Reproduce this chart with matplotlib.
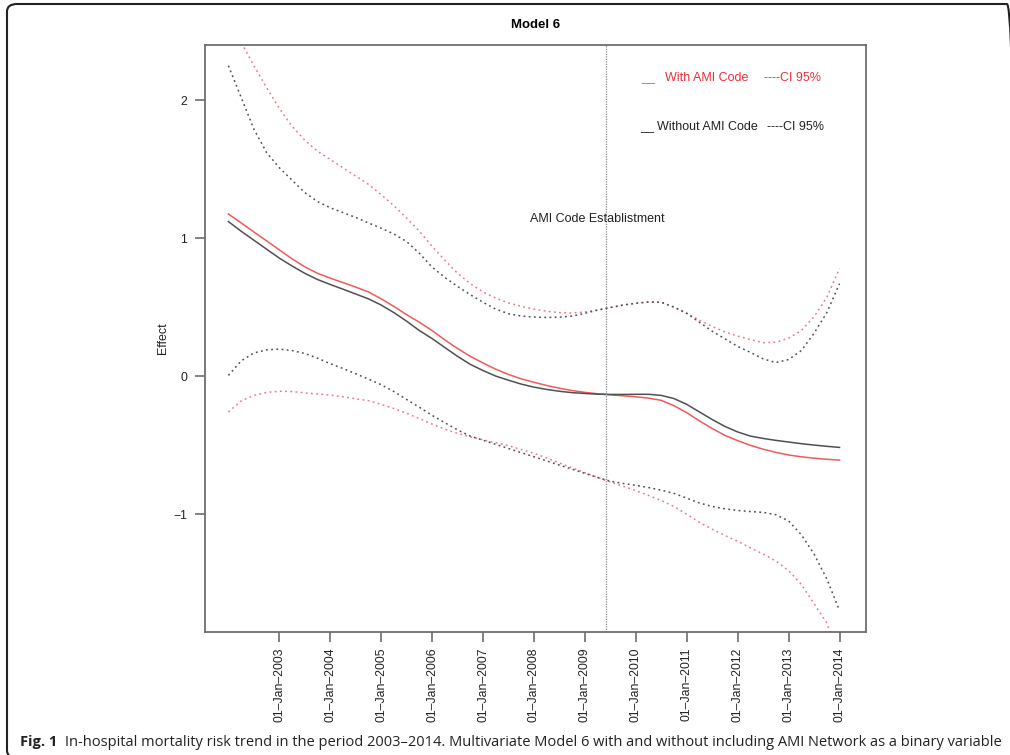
import matplotlib
matplotlib.use("Agg")
import matplotlib.pyplot as plt
from matplotlib.patches import FancyBboxPatch

plt.rcParams['font.family'] = ['Liberation Sans', 'DejaVu Sans']

# time axis (years), values every quarter year
years = [2002.00, 2002.25, 2002.50, 2002.75, 2003.00, 2003.25, 2003.50, 2003.75,
         2004.00, 2004.25, 2004.50, 2004.75, 2005.00, 2005.25, 2005.50, 2005.75,
         2006.00, 2006.25, 2006.50, 2006.75, 2007.00, 2007.25, 2007.50, 2007.75,
         2008.00, 2008.25, 2008.50, 2008.75, 2009.00, 2009.25, 2009.50, 2009.75,
         2010.00, 2010.25, 2010.50, 2010.75, 2011.00, 2011.25, 2011.50, 2011.75,
         2012.00, 2012.25, 2012.50, 2012.75, 2013.00, 2013.25, 2013.50, 2013.75,
         2014.00]

with_ami = [1.175, 1.11, 1.045, 0.98, 0.915, 0.85, 0.792, 0.745,
            0.71, 0.678, 0.645, 0.61, 0.56, 0.505, 0.445, 0.39,
            0.33, 0.262, 0.20, 0.143, 0.095, 0.05, 0.012, -0.02,
            -0.045, -0.068, -0.088, -0.105, -0.118, -0.128, -0.136, -0.143,
            -0.15, -0.16, -0.176, -0.215, -0.265, -0.325, -0.38, -0.43,
            -0.468, -0.502, -0.53, -0.553, -0.572, -0.585, -0.595, -0.603,
            -0.609]
with_upper = [2.62, 2.42, 2.25, 2.09, 1.94, 1.81, 1.71, 1.63,
              1.57, 1.51, 1.45, 1.39, 1.315, 1.235, 1.145, 1.05,
              0.94, 0.84, 0.745, 0.67, 0.61, 0.565, 0.53, 0.505,
              0.485, 0.47, 0.46, 0.458, 0.465, 0.48, 0.497, 0.515,
              0.528, 0.537, 0.535, 0.50, 0.455, 0.405, 0.36, 0.32,
              0.29, 0.265, 0.242, 0.245, 0.275, 0.33, 0.43, 0.57,
              0.78]
with_lower = [-0.26, -0.18, -0.14, -0.118, -0.11, -0.112, -0.122, -0.13,
              -0.138, -0.15, -0.165, -0.178, -0.205, -0.235, -0.27, -0.308,
              -0.348, -0.385, -0.415, -0.44, -0.462, -0.483, -0.505, -0.532,
              -0.56, -0.594, -0.63, -0.665, -0.70, -0.735, -0.768, -0.798,
              -0.83, -0.865, -0.902, -0.945, -1.002, -1.06, -1.11, -1.155,
              -1.198, -1.245, -1.29, -1.34, -1.41, -1.51, -1.65, -1.79,
              -2.05]

without_ami = [1.12, 1.05, 0.985, 0.92, 0.855, 0.798, 0.745, 0.70,
               0.664, 0.63, 0.595, 0.56, 0.515, 0.46, 0.398, 0.33,
               0.272, 0.207, 0.143, 0.085, 0.04, 0.0, -0.03, -0.058,
               -0.08, -0.097, -0.11, -0.12, -0.126, -0.131, -0.133, -0.133,
               -0.132, -0.132, -0.14, -0.163, -0.205, -0.26, -0.315, -0.365,
               -0.405, -0.435, -0.452, -0.466, -0.478, -0.49, -0.50, -0.509,
               -0.517]
without_upper = [2.25, 2.02, 1.79, 1.62, 1.51, 1.42, 1.33, 1.265,
                 1.22, 1.185, 1.15, 1.11, 1.072, 1.03, 0.975, 0.89,
                 0.79, 0.715, 0.65, 0.59, 0.535, 0.485, 0.452, 0.435,
                 0.428, 0.425, 0.427, 0.435, 0.455, 0.478, 0.497, 0.515,
                 0.528, 0.537, 0.535, 0.50, 0.455, 0.39, 0.325, 0.27,
                 0.215, 0.172, 0.125, 0.098, 0.12, 0.185, 0.31, 0.46,
                 0.67]
without_lower = [0.005, 0.11, 0.168, 0.19, 0.196, 0.185, 0.164, 0.13,
                 0.09, 0.055, 0.017, -0.022, -0.063, -0.112, -0.17, -0.226,
                 -0.285, -0.338, -0.39, -0.435, -0.465, -0.495, -0.525, -0.555,
                 -0.585, -0.615, -0.645, -0.675, -0.705, -0.735, -0.762, -0.778,
                 -0.792, -0.808, -0.827, -0.85, -0.885, -0.92, -0.945, -0.962,
                 -0.974, -0.982, -0.988, -1.005, -1.05, -1.15, -1.29, -1.47,
                 -1.70]

tick_years = [2003, 2004, 2005, 2006, 2007, 2008, 2009, 2010, 2011, 2012, 2013, 2014]
tick_labels = [f"01\u2013Jan\u2013{y}" for y in tick_years]
ami_code_date = 2009.41

RED = "#f05a5a"
RED_CI = "#f07888"
DARK = "#505050"
AXIS = "#6e6e6e"
DOTS = (0, (1.2, 2.2))

fig = plt.figure(figsize=(10.1, 7.55), dpi=100)
ax = fig.add_axes([205 / 1010, 1 - 632 / 755, (866 - 205) / 1010, (632 - 45) / 755])

ax.plot(years, with_ami, color=RED, lw=1.1)
ax.plot(years, without_ami, color=DARK, lw=1.1)
ax.plot(years, with_upper, color=RED_CI, lw=1.1, ls=DOTS)
ax.plot(years, with_lower, color=RED_CI, lw=1.1, ls=DOTS)
ax.plot(years, without_upper, color=DARK, lw=1.1, ls=DOTS)
ax.plot(years, without_lower, color=DARK, lw=1.1, ls=DOTS)

ax.axvline(ami_code_date, color="#8a8a8a", lw=0.9, ls=(0, (1, 1)))

ax.set_xlim(2001.54, 2014.52)
ax.set_ylim(-1.855, 2.40)
ax.set_yticks([-1, 0, 1, 2])
ax.set_xticks(tick_years)
ax.set_xticklabels(tick_labels, rotation=90)
ax.tick_params(axis="both", length=7, width=1.2, color=AXIS, labelsize=8.8,
               labelcolor="#222222", pad=4)
ax.tick_params(axis="y", pad=6)
for sp in ax.spines.values():
    sp.set_color(AXIS)
    sp.set_linewidth(1.3)

ax.set_ylabel("Effect", fontsize=9, color="#222222", labelpad=3)
ax.set_title("Model 6", fontsize=9.5, fontweight="bold", pad=12)

# legend written as plain text, as in the original
ax.text(2010.11, 2.138, "__", color=RED, fontsize=9)
ax.text(2010.58, 2.138, "With AMI Code", color="#e8303a", fontsize=9)
ax.text(2012.52, 2.138, "----CI 95%", color="#e8303a", fontsize=9)
ax.text(2010.09, 1.783, "__", color="#222222", fontsize=9)
ax.text(2010.42, 1.783, "Without AMI Code", color="#222222", fontsize=9)
ax.text(2012.58, 1.783, "----CI 95%", color="#222222", fontsize=9)
ax.text(2007.93, 1.118, "AMI Code Establistment", color="#222222", fontsize=9)

# caption and frame
cap_y = 1 - 746 / 755
fig.text(20 / 1010, cap_y, "Fig. 1", fontsize=10.5, fontweight="bold",
         family="Open Sans", va="baseline", color="#222222")
fig.text(65 / 1010, cap_y,
         "In-hospital mortality risk trend in the period 2003\u20132014. Multivariate Model 6 "
         "with and without including AMI Network as a binary variable",
         fontsize=10.5, family="Open Sans", va="baseline", color="#222222")
frame = FancyBboxPatch((7 / 1010, 1 - 758 / 755), 1010 / 1010, 754 / 755,
                       boxstyle="round,pad=0,rounding_size=0.01",
                       transform=fig.transFigure, fill=False, ec="#222222", lw=1.5)
fig.patches.append(frame)

fig.savefig("out.png", dpi=100)
